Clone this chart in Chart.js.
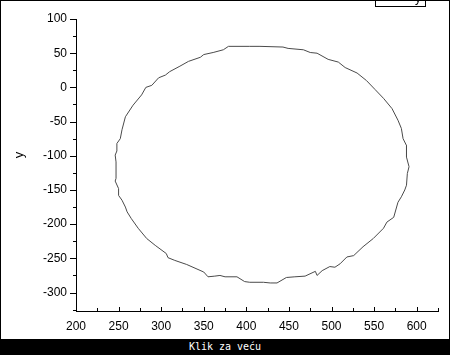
<!DOCTYPE html>
<html>
<head>
<meta charset="utf-8">
<script src="https://cdn.jsdelivr.net/npm/chart.js@4.4.1/dist/chart.umd.min.js"></script>
<style>
  body { margin: 0; background: #fff; }
  #wrap { position: relative; width: 450px; height: 355px; box-sizing: border-box; border: 1px solid #000; }
  #bar { width: 448px; height: 15px; background: #000; color: #fff; text-align: center;
         font: 10px "DejaVu Sans Mono", monospace; line-height: 15px; }
  canvas { display: block; }
</style>
</head>
<body>
<div id="wrap">
  <canvas id="c" width="448" height="338"></canvas>
  <div id="bar">Klik za veću</div>
</div>
<script>
/* ===== data ===== */
const xValues = [247, 247, 247, 246, 248, 248, 252, 254, 258, 267, 277, 282, 289, 297, 305, 310,
  322, 332, 346, 350, 361, 373, 379, 404, 416, 443, 449, 467, 475, 483, 496, 508, 516, 530,
  541, 551, 561, 571, 578, 582, 584, 588, 588, 591, 589, 588, 586, 582, 578, 573, 565, 561,
  549, 537, 526, 518, 510, 504, 498, 489, 483, 481, 469, 457, 447, 436, 428, 420, 404, 398,
  389, 375, 369, 363, 355, 350, 330, 316, 308, 306, 293, 283, 273, 265, 260, 258, 254, 250,
  250, 246, 247];
const yValues = [-133, -120, -109, -99, -93, -82, -75, -62, -43, -26, -11, 0, 3, 14, 18, 23,
  31, 38, 44, 48, 51, 55, 60, 60, 60, 59, 57, 55, 51, 50, 41, 37, 29, 21,
  10, -3, -16, -31, -48, -60, -75, -85, -102, -116, -126, -143, -150, -160, -168, -190, -197, -206,
  -221, -233, -246, -248, -258, -263, -262, -268, -275, -269, -276, -277, -278, -286, -286, -285, -285, -284,
  -277, -277, -275, -276, -277, -270, -259, -253, -249, -243, -231, -221, -206, -192, -182, -175, -165, -158,
  -148, -137, -133];

const xTicks = [200, 250, 300, 350, 400, 450, 500, 550, 600];
const xMinor = [225, 275, 325, 375, 425, 475, 525, 575, 625];
const yTicks = [100, 50, 0, -50, -100, -150, -200, -250, -300];
const yMinor = [75, 25, -25, -75, -125, -175, -225, -275, -325];

const FONT = '"Liberation Sans", Arial, sans-serif';

/* ===== tick marks, axis title, clipped legend ===== */
const extras = {
  id: 'extras',
  afterDraw(chart) {
    const ctx = chart.ctx, a = chart.chartArea;
    const xs = chart.scales.x, ys = chart.scales.y;
    ctx.save();
    ctx.strokeStyle = '#000';
    ctx.lineWidth = 1;
    ctx.beginPath();
    yTicks.forEach(v => {
      const p = Math.round(ys.getPixelForValue(v)) + 0.5;
      ctx.moveTo(a.left - 6, p); ctx.lineTo(a.left, p);
    });
    yMinor.forEach(v => {
      const p = Math.round(ys.getPixelForValue(v)) + 0.5;
      ctx.moveTo(a.left - 3, p); ctx.lineTo(a.left, p);
    });
    xTicks.forEach(v => {
      const p = Math.round(xs.getPixelForValue(v)) + 0.5;
      ctx.moveTo(p, a.bottom - 4); ctx.lineTo(p, a.bottom);
    });
    xMinor.forEach(v => {
      const p = Math.round(xs.getPixelForValue(v)) + 0.5;
      ctx.moveTo(p, a.bottom - 3); ctx.lineTo(p, a.bottom);
    });
    ctx.stroke();

    // y axis title
    ctx.fillStyle = '#000';
    ctx.font = '13px ' + FONT;
    ctx.translate(18, 154);
    ctx.rotate(-Math.PI / 2);
    ctx.textAlign = 'center';
    ctx.textBaseline = 'middle';
    ctx.fillText('y', 0, 0);
    ctx.restore();

    // legend box, mostly off the top edge
    ctx.save();
    ctx.strokeStyle = '#000';
    ctx.strokeRect(374.5, -20.5, 50, 26);
    ctx.fillStyle = '#000';
    ctx.font = '12px ' + FONT;
    ctx.textBaseline = 'alphabetic';
    ctx.fillText('y', 414, 1);
    ctx.restore();
  }
};

new Chart(document.getElementById('c'), {
  type: 'scatter',
  data: {
    datasets: [{
      label: 'y',
      data: xValues.map((x, i) => ({ x, y: yValues[i] })),
      showLine: true,
      borderColor: '#4a4a4a',
      borderWidth: 1,
      pointRadius: 0,
      tension: 0
    }]
  },
  options: {
    responsive: false,
    animation: false,
    layout: { padding: { top: 18, right: 11, left: 0, bottom: 0 } },
    plugins: { legend: { display: false }, tooltip: { enabled: false } },
    scales: {
      x: {
        type: 'linear',
        min: 200, max: 625,
        afterBuildTicks: s => { s.ticks = xTicks.map(v => ({ value: v })); },
        afterFit: s => { s.height = 28; },
        grid: { display: false, drawTicks: false },
        border: { display: true, color: '#000', width: 1 },
        ticks: { color: '#000', font: { family: FONT, size: 12 }, padding: 8, maxRotation: 0 }
      },
      y: {
        type: 'linear',
        min: -327, max: 100,
        afterBuildTicks: s => { s.ticks = yTicks.map(v => ({ value: v })); },
        afterFit: s => { s.width = 75; },
        grid: { display: false, drawTicks: false },
        border: { display: true, color: '#000', width: 1 },
        ticks: { color: '#000', font: { family: FONT, size: 12 }, padding: 9 }
      }
    }
  },
  plugins: [extras]
});
</script>
</body>
</html>
